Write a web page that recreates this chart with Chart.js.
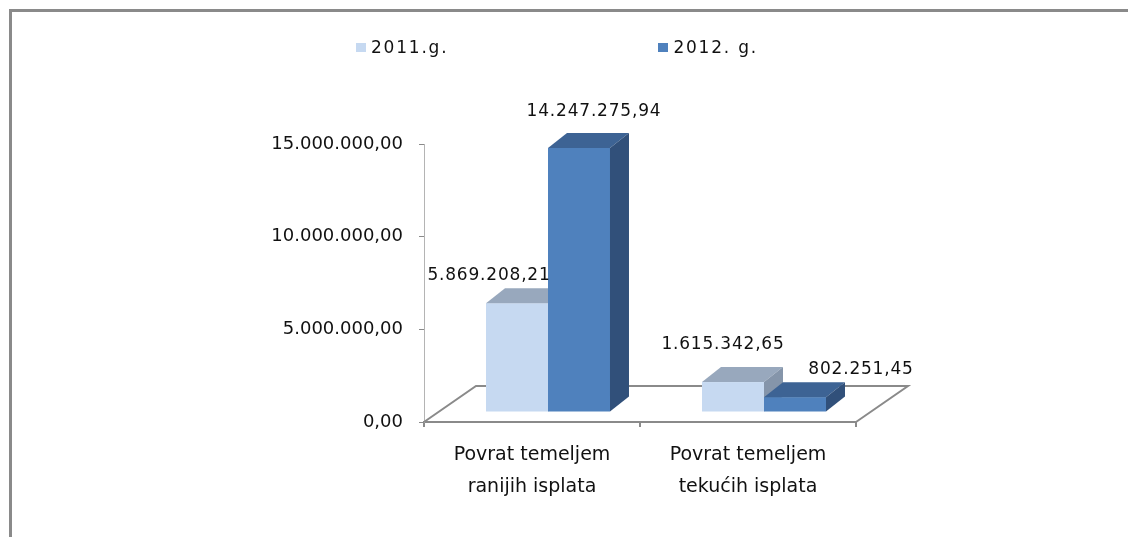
<!DOCTYPE html>
<html>
<head>
<meta charset="utf-8">
<script src="https://cdn.jsdelivr.net/npm/chart.js@4.4.1/dist/chart.umd.min.js"></script>
<style>
  html, body { margin: 0; padding: 0; background: #fff; overflow: hidden; }
  #wrap { position: relative; width: 1128px; height: 537px; overflow: hidden; }
  canvas { position: absolute; left: 0; top: 0; }
  .chart-labels { position: absolute; left: 0; top: 36px; width: 1114px; display: flex;
                  justify-content: center; gap: 210px; font: 17px "DejaVu Sans";
                  letter-spacing: 1.8px; line-height: 22px; color: #111; }
  .chart-labels div { display: flex; align-items: center; }
  .chart-labels span { display: inline-block; width: 10px; height: 9px; margin-right: 5px; }
</style>
</head>
<body>
<div id="wrap">
  <canvas id="chart" width="1128" height="537"></canvas>
  <div class="chart-labels"></div>
</div>
<script>
const categories = [['Povrat temeljem', 'ranijih isplata'], ['Povrat temeljem', 'tekućih isplata']];
const seriesNames = ['2011.g.', '2012. g.'];
const values2011 = [5869208.21, 1615342.65];
const values2012 = [14247275.94, 802251.45];
const yMax = 15000000;
const yStep = 5000000;

// face colours: front, top, side
const faces2011 = ['#c6d9f1', '#98a8bd', '#8595aa'];
const faces2012 = ['#4f81bd', '#3d6394', '#31507a'];

function fmt(v) {
  const parts = v.toFixed(2).split('.');
  return parts[0].replace(/\B(?=(\d{3})+(?!\d))/g, '.') + ',' + parts[1];
}

// fake 3d: frame, floor, bar tops/sides and value labels
const bars3d = {
  id: 'bars3d',
  beforeDraw(chart) {
    const ctx = chart.ctx;
    ctx.save();
    ctx.strokeStyle = '#8a8a8a';
    ctx.lineWidth = 3;
    ctx.beginPath();
    ctx.moveTo(10.5, chart.height);
    ctx.lineTo(10.5, 10.5);
    ctx.lineTo(chart.width, 10.5);
    ctx.stroke();
    ctx.restore();
  },
  beforeDatasetsDraw(chart, args, opts) {
    const ctx = chart.ctx;
    const a = chart.chartArea;
    const [fx, fy] = opts.floor;
    const [sx, sy] = opts.shift;
    const [dx, dy] = opts.depth;

    ctx.save();
    ctx.strokeStyle = '#8a8a8a';
    ctx.lineWidth = 2;
    ctx.beginPath();
    ctx.moveTo(a.left, a.bottom);
    ctx.lineTo(a.left + fx, a.bottom + fy);
    ctx.lineTo(a.right + fx, a.bottom + fy);
    ctx.lineTo(a.right, a.bottom);
    ctx.stroke();

    const n = chart.data.labels.length;
    for (let i = 0; i < n; i++) {
      chart.data.datasets.forEach((ds, di) => {
        const el = chart.getDatasetMeta(di).data[i];
        const p = el.getProps(['x', 'y', 'base', 'width'], true);
        const l = p.x - p.width / 2 + sx, r = p.x + p.width / 2 + sx;
        const t = p.y + sy, b = p.base + sy;
        const f = ds.faces;
        ctx.fillStyle = f[0];
        ctx.fillRect(l, t, r - l, b - t);
        ctx.fillStyle = f[1];
        ctx.beginPath();
        ctx.moveTo(l, t); ctx.lineTo(r, t); ctx.lineTo(r + dx, t + dy); ctx.lineTo(l + dx, t + dy);
        ctx.closePath(); ctx.fill();
        ctx.fillStyle = f[2];
        ctx.beginPath();
        ctx.moveTo(r, t); ctx.lineTo(r + dx, t + dy); ctx.lineTo(r + dx, b + dy); ctx.lineTo(r, b);
        ctx.closePath(); ctx.fill();
      });
    }

    ctx.font = '17px "DejaVu Sans"';
    ctx.letterSpacing = '0.8px';
    ctx.fillStyle = '#111';
    ctx.textAlign = 'center';
    ctx.textBaseline = 'middle';
    chart.data.datasets.forEach((ds, di) => {
      chart.getDatasetMeta(di).data.forEach((el, i) => {
        const p = el.getProps(['x', 'y'], true);
        const nudge = opts.labelNudge[di][i];
        ctx.fillText(fmt(ds.data[i]), p.x + sx + nudge[0], p.y + sy + nudge[1]);
      });
    });
    ctx.restore();
    return false;
  }
};

const chart = new Chart(document.getElementById('chart'), {
  type: 'bar',
  data: {
    labels: categories,
    datasets: [
      { label: seriesNames[0], data: values2011, backgroundColor: faces2011[0], faces: faces2011 },
      { label: seriesNames[1], data: values2012, backgroundColor: faces2012[0], faces: faces2012 }
    ]
  },
  options: {
    responsive: false,
    animation: false,
    devicePixelRatio: 1,
    categoryPercentage: 0.574,
    barPercentage: 1,
    layout: { padding: { left: 250, right: 272, top: 144, bottom: 15 } },
    plugins: {
      legend: { display: false },
      tooltip: { enabled: false },
      bars3d: {
        floor: [52, -36],
        shift: [16, -10],
        depth: [19, -15],
        labelNudge: [[[-28, -28], [-10, -37]], [[15, -36], [66, -28]]]
      }
    },
    scales: {
      x: {
        afterFit: s => { s.height = 100; },
        border: { display: true, color: '#8a8a8a', width: 2 },
        grid: { display: true, drawOnChartArea: false, offset: true, tickLength: 5, color: '#8a8a8a', lineWidth: 2 },
        ticks: { padding: 12, color: '#111', font: { family: 'DejaVu Sans', size: 19, lineHeight: 32 / 19 } }
      },
      y: {
        min: 0,
        max: yMax,
        afterFit: s => { s.width = 174; },
        border: { display: true, color: '#b4b4b4', width: 1 },
        grid: { display: true, drawOnChartArea: false, tickLength: 5, color: '#8a8a8a' },
        ticks: { stepSize: yStep, padding: 16, color: '#111', font: { family: 'DejaVu Sans', size: 18 }, callback: v => fmt(v) }
      }
    }
  },
  plugins: [bars3d]
});

const labelsContainer = document.querySelector('.chart-labels');
labelsContainer.innerHTML = '';
chart.data.datasets.forEach(ds => {
  const item = document.createElement('div');
  const box = document.createElement('span');
  box.style.backgroundColor = ds.backgroundColor;
  item.appendChild(box);
  item.appendChild(document.createTextNode(ds.label));
  labelsContainer.appendChild(item);
});
</script>
</body>
</html>
